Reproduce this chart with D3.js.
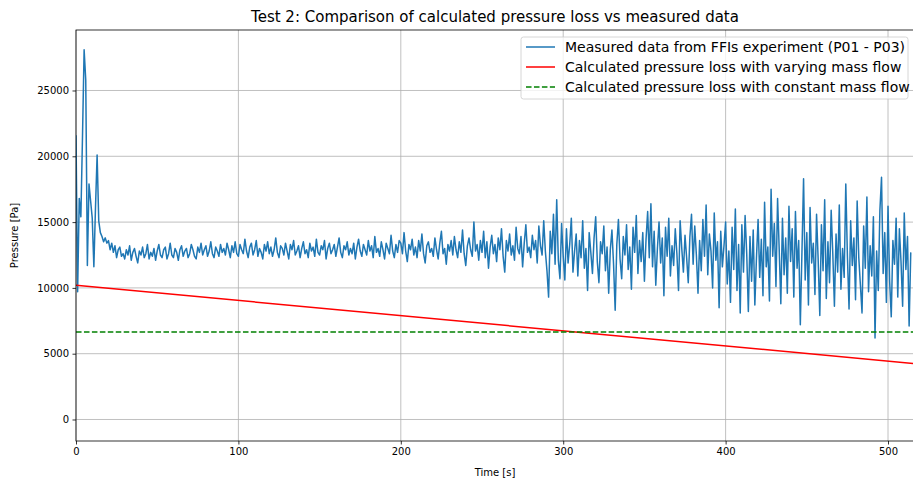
<!DOCTYPE html>
<html>
<head>
<meta charset="utf-8">
<script src="https://cdn.jsdelivr.net/npm/d3@7"></script>
<style>
    body { margin: 0; background: #fff; }
    text { font-family: "DejaVu Sans", sans-serif; fill: #000; }
    .grid line { stroke: #b0b0b0; stroke-width: 0.8; }
    .axis path, .axis line { stroke: #000; stroke-width: 0.8; }
</style>
</head>
<body>
<div id="chart"></div>
<script>
/*****PRESSURE LOSS CHART*****/

//measured pressure, one sample per second starting at t = 0
var measured = [
    21600, 9700, 16800, 15400, 21500, 28100, 25800, 11700, 17900, 16600,
    15300, 11600, 16100, 20100, 15100, 14200, 13900, 13500, 13800, 13400,
    13600, 12900, 13400, 12700, 13200, 12300, 12900, 13100, 12400, 12600,
    12200, 12900, 12500, 13200, 12100, 12700, 13000, 12400, 11900, 12800,
    12500, 13100, 12300, 12600, 13300, 12200, 12700, 12400, 13000, 12100,
    12800, 13300, 12500, 12300, 12900, 13100, 12200, 12600, 13400, 12500,
    12300, 13000, 12700, 12100, 12900, 13200, 12400, 12800, 13000, 12300,
    12600, 13300, 12900, 12400, 12200, 13100, 12700, 13400, 12500, 12900,
    13200, 12400, 12800, 13500, 12600, 12300, 13100, 12800, 12400, 13300,
    12700, 13000, 12500, 13400, 12900, 12300, 13200, 12700, 13500, 12600,
    12400, 13300, 12900, 12600, 13700, 12800, 12300, 13100, 13400, 12500,
    12900, 13600, 12400, 13000, 12700, 12200, 13300, 12800, 13500, 12600,
    13100, 12400, 12900, 13800, 12700, 12300, 13200, 13000, 12500, 13400,
    12800, 12200, 13300, 12900, 13600, 12500, 12800, 13200, 12300, 13000,
    13500, 12600, 12900, 12300, 13400, 12800, 13100, 12400, 13700, 12700,
    12500, 13200, 12900, 13600, 12200, 13000, 13400, 12600, 12900, 13300,
    12400, 13100, 13800, 12700, 12300, 13200, 12900, 13500, 12500, 13000,
    12600, 13400, 12200, 13100, 13700, 12800, 12400, 13300, 12900, 12500,
    13600, 12800, 13200, 12300, 13900, 12700, 13000, 12400, 13500, 12900,
    12200, 13400, 13000, 12600, 14000, 12800, 12300, 13300, 12700, 13600,
    13400, 12600, 14200, 12800, 12000, 13300, 12900, 13700, 12500, 13100,
    12300, 13600, 12800, 14100, 12600, 11900, 13200, 13500, 12700, 13000,
    12400, 13800, 12900, 12200, 13400, 14300, 12600, 13000, 11800, 13300,
    12800, 13600, 12500, 13900, 12900, 12300, 13500, 12700, 14400, 12600,
    11700, 13200, 13800, 12900, 12400, 15000, 12800, 13300, 12100, 13600,
    12700, 14300, 12300, 13500, 11500, 13100, 14000, 12600, 13300, 12000,
    13800, 12900, 14500, 12400, 11200, 13600, 12800, 14100, 12500, 13200,
    12100, 14600, 13000, 12600, 13900, 11600, 13400, 14800, 12700, 13100,
    12300, 14000, 12900, 13600, 11900, 14700, 13200, 12500, 15100, 12800,
    11300, 9300, 14300, 12600, 15600, 11800, 16700, 12100, 10700, 14900,
    12400, 10600, 14500, 11900, 13300, 15300, 11200, 12800, 14100, 10900,
    13600, 12300, 15100, 11500, 13000, 9800, 14200, 12700, 11100, 13800,
    15400, 12000, 10400, 13500, 12600, 14700, 11300, 13100, 9600, 12900,
    14400, 11800, 8300, 13300, 15200, 12200, 10700, 13900, 12500, 14800,
    11400, 13100, 9900, 14600, 12700, 15500, 11100, 13600, 12000, 14200,
    10500, 13700, 15800, 12300, 16400, 11600, 14300, 10200, 13000, 15000,
    11900, 13800, 9400, 14600, 12400, 15300, 10900, 13200, 11700, 14500,
    12600, 9800, 15100, 13000, 11200, 14000, 12300, 10400, 13900, 15600,
    11800, 14700, 12500, 9600, 13600, 11300, 15200, 12400, 16300, 11000,
    14100, 12800, 10000, 15700, 12100, 13500, 8500, 14300, 11600, 13200,
    15000, 10300, 12800, 8900, 14600, 11400, 16000, 9800, 13300, 8100,
    14800, 11200, 15500, 12600, 8200, 13900, 10500, 14400, 8700, 12300,
    15200, 10800, 13700, 9400, 16500, 11600, 13100, 9000, 17500, 12400,
    14900, 10100, 16800, 12900, 8800, 15300, 11000, 13800, 9600, 16200,
    12000, 14500, 9300, 15800, 11500, 13600, 7200, 12700, 18300, 10600,
    14200, 8700, 16100, 11900, 13400, 9500, 15600, 12100, 7900, 14800,
    11300, 16700, 9200, 13500, 10400, 15900, 12600, 8600, 14100, 11200,
    16300, 9900, 13000, 10800, 17900, 12400, 8400, 15100, 11700, 13800,
    9100, 16600, 12300, 10200, 8100, 14700, 11500, 16900, 9700, 13200,
    10900, 15400, 6200, 12800, 9800, 15900, 18400, 11100, 14200, 8900,
    16200, 10500, 7800, 13600, 11800, 15300, 9300, 14500, 12000, 8600,
    15700, 11400, 13900, 7100, 12700
];

//calculated pressure loss with varying mass flow (start and end of the run)
var varyingTime = [0, 516];
var varyingLoss = [10200, 4250];

//calculated pressure loss with constant mass flow
var constantTime = [0, 516];
var constantLoss = [6650, 6650];

//tick labels
var xTicks = [0, 100, 200, 300, 400, 500];
var yTicks = [0, 5000, 10000, 15000, 20000, 25000];

var legendLabels = [
    "Measured data from FFIs experiment (P01 - P03)",
    "Calculated pressure loss with varying mass flow",
    "Calculated pressure loss with constant mass flow"
];

(function(){

    var W = 913, H = 484;
    var margin = {top: 30, right: -1, bottom: 43, left: 76};
    var width = W - margin.left - margin.right,
        height = H - margin.top - margin.bottom;

    var svg = d3.select("#chart")
        .append("svg")
        .attr("width", W)
        .attr("height", H);

    var g = svg.append("g")
        .attr("transform", "translate(" + margin.left + "," + margin.top + ")");

    //scales
    var x = d3.scaleLinear()
        .domain([0, 516])
        .range([0, width]);

    var y = d3.scaleLinear()
        .domain([-1634, 29597])
        .range([height, 0]);

    //clip the lines to the axes box
    svg.append("defs").append("clipPath")
        .attr("id", "plotArea")
        .append("rect")
        .attr("width", width)
        .attr("height", height);

    //grid lines
    g.append("g")
        .attr("class", "grid")
        .selectAll("line")
        .data(xTicks)
        .enter().append("line")
        .attr("x1", d => x(d)).attr("x2", d => x(d))
        .attr("y1", 0).attr("y2", height);

    g.append("g")
        .attr("class", "grid")
        .selectAll("line")
        .data(yTicks)
        .enter().append("line")
        .attr("x1", 0).attr("x2", width)
        .attr("y1", d => y(d)).attr("y2", d => y(d));

    var lines = g.append("g").attr("clip-path", "url(#plotArea)");

    //measured data
    var line = d3.line()
        .x((d, i) => x(i))
        .y(d => y(d));

    lines.append("path")
        .datum(measured)
        .attr("d", line)
        .attr("fill", "none")
        .attr("stroke", "#1f77b4")
        .attr("stroke-width", 1.5)
        .attr("stroke-linejoin", "round");

    //calculated lines
    var calcLine = d3.line()
        .x(d => x(d[0]))
        .y(d => y(d[1]));

    lines.append("path")
        .datum(d3.zip(varyingTime, varyingLoss))
        .attr("d", calcLine)
        .attr("fill", "none")
        .attr("stroke", "#ff0000")
        .attr("stroke-width", 1.5);

    lines.append("path")
        .datum(d3.zip(constantTime, constantLoss))
        .attr("d", calcLine)
        .attr("fill", "none")
        .attr("stroke", "#008000")
        .attr("stroke-width", 1.5)
        .attr("stroke-dasharray", "5.55,2.4");

    //axes
    g.append("g")
        .attr("class", "axis")
        .attr("transform", "translate(0," + height + ")")
        .call(d3.axisBottom(x).tickValues(xTicks).tickSize(3.5).tickPadding(3.5));

    g.append("g")
        .attr("class", "axis")
        .call(d3.axisLeft(y).tickValues(yTicks).tickSize(3.5).tickPadding(3.5).tickFormat(d3.format("d")));

    g.selectAll(".axis text")
        .style("font-size", "10px")
        .style("font-family", "DejaVu Sans");
    g.selectAll(".axis .domain").remove();

    //spines
    g.append("rect")
        .attr("width", width)
        .attr("height", height)
        .attr("fill", "none")
        .attr("stroke", "#000")
        .attr("stroke-width", 0.8);

    //title and labels
    svg.append("text")
        .attr("x", margin.left + width / 2)
        .attr("y", 22)
        .style("text-anchor", "middle")
        .style("font-size", "15px")
        .text("Test 2: Comparison of calculated pressure loss vs measured data");

    svg.append("text")
        .attr("x", margin.left + width / 2)
        .attr("y", 476)
        .style("text-anchor", "middle")
        .style("font-size", "10px")
        .text("Time [s]");

    svg.append("text")
        .attr("transform", "translate(18," + (margin.top + height / 2) + ") rotate(-90)")
        .style("text-anchor", "middle")
        .style("font-size", "10px")
        .text("Pressure [Pa]");

    //legend
    var legend = svg.append("g")
        .attr("transform", "translate(521,37)");

    legend.append("rect")
        .attr("width", 387)
        .attr("height", 62)
        .attr("rx", 2.5)
        .attr("fill", "#fff")
        .attr("fill-opacity", 0.8)
        .attr("stroke", "#cccccc")
        .attr("stroke-width", 0.8);

    var colors = ["#1f77b4", "#ff0000", "#008000"];
    var dashes = [null, null, "5.55,2.4"];

    var rows = legend.selectAll(".row")
        .data(legendLabels)
        .enter().append("g")
        .attr("class", "row")
        .attr("transform", (d, i) => "translate(0," + (10 + i * 20) + ")");

    rows.append("line")
        .attr("x1", 5).attr("x2", 34)
        .attr("y1", 0).attr("y2", 0)
        .attr("stroke", (d, i) => colors[i])
        .attr("stroke-width", 1.5)
        .attr("stroke-dasharray", (d, i) => dashes[i]);

    rows.append("text")
        .attr("x", 44)
        .attr("dy", "0.36em")
        .style("font-size", "14px")
        .text(d => d);

})()
</script>
</body>
</html>
